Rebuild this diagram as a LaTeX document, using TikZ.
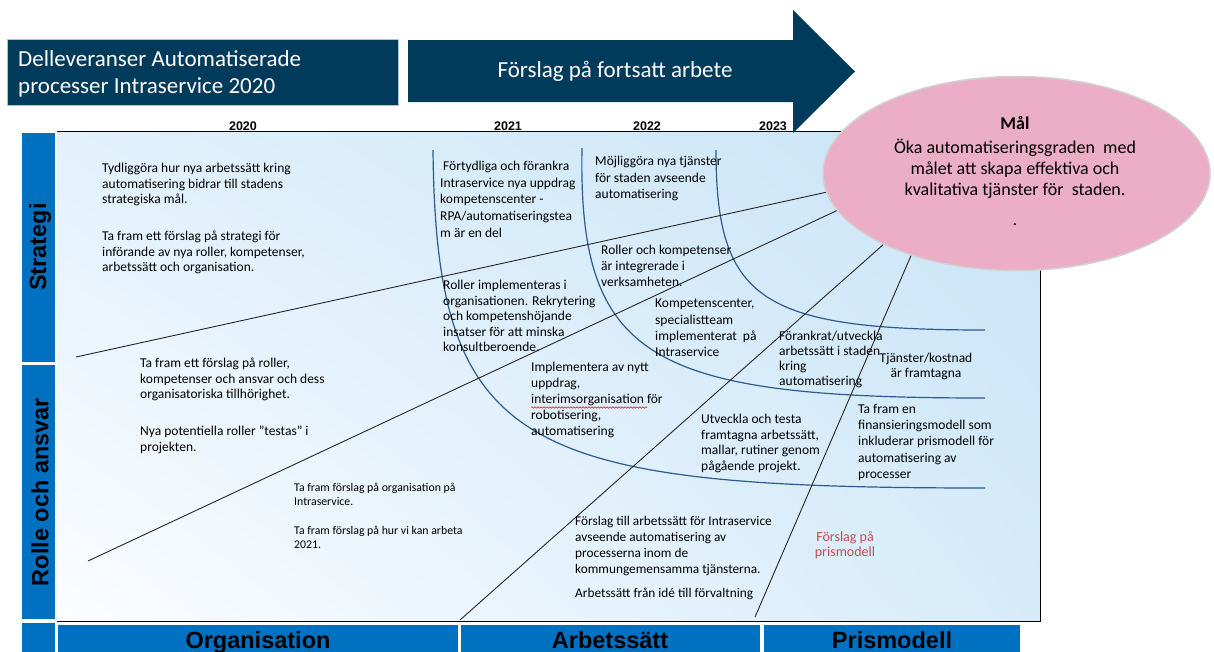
\documentclass[tikz,border=0pt]{standalone}
\usepackage{fontspec}
\setmainfont{Carlito}
\newfontfamily\arialf{Liberation Sans}
\usetikzlibrary{shapes.geometric,decorations.pathmorphing,shadings}
\definecolor{navy}{RGB}{0,59,92}
\definecolor{barblue}{RGB}{0,112,192}
\definecolor{curveblue}{RGB}{47,90,140}
\definecolor{goalpink}{RGB}{236,174,199}
\definecolor{redtxt}{RGB}{192,80,77}
\definecolor{pUL}{RGB}{226,241,252}
\definecolor{pUR}{RGB}{200,228,247}
\definecolor{pLL}{RGB}{252,253,255}
\definecolor{pLR}{RGB}{214,235,250}
\tikzset{
  txt/.style={anchor=north west, inner sep=0pt, align=left, font=\fontsize{13.5}{15.6}\selectfont},
  smalltxt/.style={anchor=north west, inner sep=0pt, align=left, font=\fontsize{11.8}{13.5}\selectfont},
  year/.style={inner sep=0pt, font=\arialf\bfseries\fontsize{12.5}{14}\selectfont},
  sidelabel/.style={inner sep=0pt, rotate=90, font=\arialf\bfseries\fontsize{23.5}{26}\selectfont},
  botlabel/.style={inner sep=0pt, anchor=base, font=\arialf\bfseries\fontsize{23.5}{26}\selectfont},
  hdrtxt/.style={inner sep=0pt, text=white, font=\fontsize{23}{27}\selectfont},
  curve/.style={draw=curveblue, line width=1.2pt},
  ray/.style={draw=black!85, line width=0.9pt},
  goaltxt/.style={inner sep=0pt, align=center, font=\fontsize{18}{20.7}\selectfont}
}
\begin{document}
\begin{tikzpicture}[x=1pt,y=-1pt]
\useasboundingbox (0,0) rectangle (1214,651);
\clip (0,0) rectangle (1214,651);
\fill[white] (0,0) rectangle (1214,651);

% main panel
\shade[upper left=pUL, upper right=pUR, lower left=pLL, lower right=pLR] (57,131) rectangle (1040,621);
\draw[black, line width=1pt] (57,131) -- (1040,131) -- (1040,621) -- (57,621);

% side bars
\fill[barblue] (22,133) rectangle (55,362);
\fill[barblue] (22,365) rectangle (55,619);
\fill[barblue] (22,623) rectangle (55,660);
\node[sidelabel] (sStrat) at (40,247) {Strategi};
\node[sidelabel] (sRolle) at (40,492) {Rolle och ansvar};

% bottom bars
\fill[barblue] (58,625) rectangle (458,660);
\fill[barblue] (461,625) rectangle (760,660);
\fill[barblue] (764,625) rectangle (1020,660);
\node[botlabel] (bOrg) at (258,648) {Organisation};
\node[botlabel] (bArb) at (610,648) {Arbetssätt};
\node[botlabel] (bPris) at (892,648) {Prismodell};

% header box and arrow
\fill[navy] (7,39) rectangle (398,105);
\draw[white!70!navy, line width=0.6pt] (7,39) rectangle (398,105);
\node[hdrtxt, anchor=west] (h1) at (18,59) {Delleveranser Automatiserade};
\node[hdrtxt, anchor=west] (h2) at (18,87) {processer Intraservice 2020};
\fill[navy] (408,40) -- (793,40) -- (793,10) -- (855,71.5) -- (793,133) -- (793,102) -- (408,102) -- cycle;
\node[hdrtxt] (arrtxt) at (615,71) {Förslag på fortsatt arbete};

% years
\node[year] (y20) at (243,126) {2020};
\node[year] (y21) at (508,126) {2021};
\node[year] (y22) at (647,126) {2022};
\node[year] (y23) at (773,126) {2023};

% curves
\coordinate (a0) at (433,150); \coordinate (a1) at (985,488);
\coordinate (b0) at (582,148); \coordinate (b1) at (985,398);
\coordinate (c0) at (716,150); \coordinate (c1) at (985,330);
\draw[curve] (a0) .. controls (436,450) and (520,488) .. (a1);
\draw[curve] (b0) .. controls (578,360) and (650,398) .. (b1);
\draw[curve] (c0) .. controls (716,300) and (760,330) .. (c1);

% rays
\coordinate (r1s) at (76,357);  \coordinate (r1e) at (900,176);
\coordinate (r2s) at (88,561);  \coordinate (r2e) at (900,181);
\coordinate (r3s) at (460,620); \coordinate (r3e) at (920,212);
\coordinate (r4s) at (755,617); \coordinate (r4e) at (935,200);
\draw[ray] (r1s) -- (r1e);
\draw[ray] (r2s) -- (r2e);
\draw[ray] (r3s) -- (r3e);
\draw[ray] (r4s) -- (r4e);

% goal ellipse
\node[ellipse, minimum width=387pt, minimum height=194pt, fill=goalpink, draw=black!18, line width=1.5pt] (goal) at (1016.5,173.5) {};
\node[goaltxt, font=\bfseries\fontsize{18}{21}\selectfont] (gT) at (1015,123) {Mål};
\node[goaltxt, anchor=north] (gB) at (1015,139) {Öka automatiseringsgraden\ \ med\\målet att skapa effektiva och\\kvalitativa tjänster för\ \ staden.};
\node[goaltxt] (gD) at (1015,225) {.};

% texts
\node[txt] (t1) at (102,163) {Tydliggöra hur nya arbetssätt kring\\automatisering bidrar till stadens\\strategiska mål.};
\node[txt] (t2) at (102,231) {Ta fram ett förslag på strategi för\\införande av nya roller, kompetenser,\\arbetssätt och organisation.};
\node[txt] (t3) at (140,358) {Ta fram ett förslag på roller,\\kompetenser och ansvar och dess\\organisatoriska tillhörighet.};
\node[txt] (t4) at (140,426) {Nya potentiella roller ”testas” i\\projekten.};
\node[smalltxt] (t5a) at (294,483) {Ta fram förslag på organisation på\\Intraservice.};
\node[smalltxt] (t5b) at (294,526) {Ta fram förslag på hur vi kan arbeta\\2021.};
\node[txt, font=\fontsize{13.5}{16.7}\selectfont] (t6) at (440,161) {\hspace{3pt}Förtydliga och förankra\\Intraservice nya uppdrag\\kompetenscenter -\\RPA/automatiseringstea\\m är en del};
\node[txt, font=\fontsize{13.5}{16.5}\selectfont] (t7) at (595,156) {Möjliggöra nya tjänster\\för staden avseende\\automatisering};
\node[txt, font=\fontsize{13.5}{16}\selectfont] (t8) at (601,245) {Roller och kompetenser\\är integrerade i\\verksamheten.};
\node[txt] (t9) at (443,280) {Roller implementeras i\\organisationen. Rekrytering\\och kompetenshöjande\\insatser för att minska\\konsultberoende.};
\node[txt, font=\fontsize{13.5}{16.3}\selectfont] (t10) at (655,299) {Kompetenscenter,\\specialistteam\\implementerat\ \ på\\Intraservice};
\node[txt, font=\fontsize{13.5}{16}\selectfont] (t11) at (531,362) {Implementera av nytt\\uppdrag,\\interimsorganisation för\\robotisering,\\automatisering};
\draw[red, line width=0.5pt, decorate, decoration={snake, amplitude=0.8pt, segment length=3pt}] (531,407.5) -- (647,407.5);
\node[txt, font=\fontsize{13.5}{15}\selectfont] (t12) at (779,331) {Förankrat/utveckla\\arbetssätt i staden\\kring\\automatisering};
\node[txt, anchor=north, align=center, font=\fontsize{13.5}{15}\selectfont] (t13) at (926,353) {Tjänster/kostnad\\är framtagna};
\node[txt, font=\fontsize{13.5}{16.2}\selectfont] (t14) at (858,404) {Ta fram en\\finansieringsmodell som\\inkluderar prismodell för\\automatisering av\\processer};
\node[txt, font=\fontsize{13.5}{15.5}\selectfont] (t15) at (701,414) {Utveckla och testa\\framtagna arbetssätt,\\mallar, rutiner genom\\pågående projekt.};
\node[txt, font=\fontsize{13.3}{16}\selectfont] (t16) at (575,516) {Förslag till arbetssätt för Intraservice\\avseende automatisering av\\processerna inom de\\kommungemensamma tjänsterna.};
\node[txt, font=\fontsize{13.3}{16}\selectfont] (t17) at (575,588) {Arbetssätt från idé till förvaltning};
\node[txt, anchor=north, align=center, text=redtxt, font=\fontsize{14}{15.5}\selectfont] (t18) at (845,531) {Förslag på\\prismodell};
\end{tikzpicture}
\end{document}
